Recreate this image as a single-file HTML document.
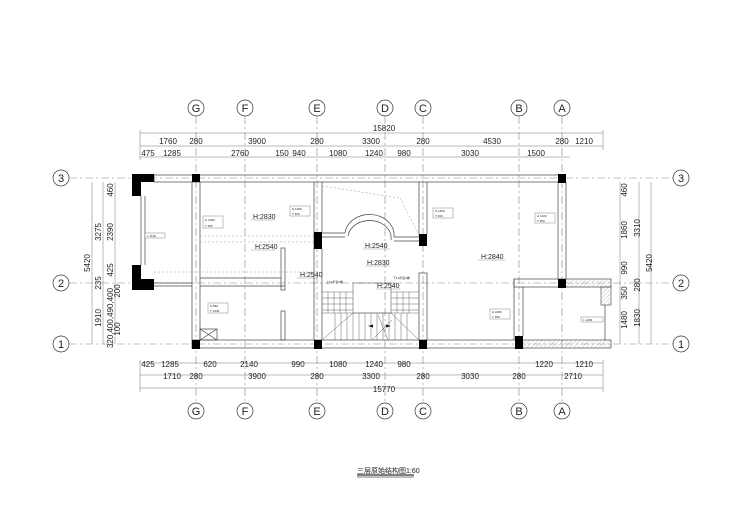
<!DOCTYPE html>
<html><head><meta charset="utf-8"><style>
html,body{margin:0;padding:0;background:#fff;}
svg{display:block;}
text{font-family:"Liberation Sans","Noto Sans CJK SC",sans-serif;fill:#222;}
.d{font-size:8px;}
.s{font-size:7px;}
.t{font-size:3px;}
.c{font-size:11px;}
</style></head><body>
<svg width="740" height="517" viewBox="0 0 740 517" xmlns="http://www.w3.org/2000/svg">
<defs>
<pattern id="h" width="3" height="3" patternUnits="userSpaceOnUse" patternTransform="rotate(45)">
<line x1="0" y1="0" x2="0" y2="3" stroke="#999" stroke-width="0.6"/></pattern>
</defs>
<rect width="740" height="517" fill="#fff"/>
<!-- axis lines -->
<g stroke="#888" stroke-width="0.6" stroke-dasharray="8,3,2,3" fill="none">
<line x1="196" y1="116" x2="196" y2="403"/>
<line x1="245" y1="116" x2="245" y2="403"/>
<line x1="317" y1="116" x2="317" y2="403"/>
<line x1="385" y1="116" x2="385" y2="403"/>
<line x1="423" y1="116" x2="423" y2="403"/>
<line x1="519" y1="116" x2="519" y2="403"/>
<line x1="562" y1="116" x2="562" y2="403"/>
<line x1="69" y1="178" x2="673" y2="178"/>
<line x1="69" y1="283" x2="673" y2="283"/>
<line x1="69" y1="344" x2="673" y2="344"/>
</g>
<!-- axis bubbles -->
<g fill="#fff" stroke="#333" stroke-width="0.7">
<circle cx="196" cy="108" r="8"/><circle cx="245" cy="108" r="8"/><circle cx="317" cy="108" r="8"/><circle cx="385" cy="108" r="8"/><circle cx="423" cy="108" r="8"/><circle cx="519" cy="108" r="8"/><circle cx="562" cy="108" r="8"/>
<circle cx="196" cy="411" r="8"/><circle cx="245" cy="411" r="8"/><circle cx="317" cy="411" r="8"/><circle cx="385" cy="411" r="8"/><circle cx="423" cy="411" r="8"/><circle cx="519" cy="411" r="8"/><circle cx="562" cy="411" r="8"/>
<circle cx="61" cy="178" r="8"/><circle cx="61" cy="283" r="8"/><circle cx="61" cy="344" r="8"/>
<circle cx="681" cy="178" r="8"/><circle cx="681" cy="283" r="8"/><circle cx="681" cy="344" r="8"/>
</g>
<g class="c" text-anchor="middle">
<text x="196" y="112">G</text><text x="245" y="112">F</text><text x="317" y="112">E</text><text x="385" y="112">D</text><text x="423" y="112">C</text><text x="519" y="112">B</text><text x="562" y="112">A</text>
<text x="196" y="415">G</text><text x="245" y="415">F</text><text x="317" y="415">E</text><text x="385" y="415">D</text><text x="423" y="415">C</text><text x="519" y="415">B</text><text x="562" y="415">A</text>
<text x="61" y="182">3</text><text x="61" y="287">2</text><text x="61" y="348">1</text>
<text x="681" y="182">3</text><text x="681" y="287">2</text><text x="681" y="348">1</text>
</g>
<!-- dimension lines -->
<g stroke="#777" stroke-width="0.5">
<line x1="140" y1="133" x2="603" y2="133"/>
<line x1="140" y1="146" x2="603" y2="146"/>
<line x1="140" y1="157" x2="570" y2="157"/>
<line x1="140" y1="363" x2="603" y2="363"/>
<line x1="140" y1="375" x2="603" y2="375"/>
<line x1="140" y1="388" x2="603" y2="388"/>
<line x1="92" y1="182" x2="92" y2="344"/>
<line x1="103" y1="182" x2="103" y2="344"/>
<line x1="115" y1="182" x2="115" y2="344"/>
<line x1="620" y1="182" x2="620" y2="344"/>
<line x1="639" y1="182" x2="639" y2="344"/>
<line x1="651" y1="182" x2="651" y2="344"/>
<line x1="140" y1="130" x2="140" y2="160"/><line x1="603" y1="130" x2="603" y2="150"/>
<line x1="140" y1="360" x2="140" y2="392"/><line x1="603" y1="360" x2="603" y2="392"/>
</g>
<g class="d" text-anchor="middle">
<text x="384" y="131">15820</text>
<text x="168" y="144">1760</text><text x="196" y="144">280</text><text x="257" y="144">3900</text><text x="317" y="144">280</text><text x="371" y="144">3300</text><text x="423" y="144">280</text><text x="492" y="144">4530</text><text x="562" y="144">280</text><text x="584" y="144">1210</text>
<text x="148" y="156">475</text><text x="172" y="156">1285</text><text x="240" y="156">2760</text><text x="282" y="156">150</text><text x="299" y="156">940</text><text x="338" y="156">1080</text><text x="374" y="156">1240</text><text x="404" y="156">980</text><text x="470" y="156">3030</text><text x="536" y="156">1500</text>
<text x="148" y="367">425</text><text x="170" y="367">1285</text><text x="210" y="367">620</text><text x="249" y="367">2140</text><text x="298" y="367">990</text><text x="338" y="367">1080</text><text x="374" y="367">1240</text><text x="404" y="367">980</text><text x="544" y="367">1220</text><text x="584" y="367">1210</text>
<text x="172" y="379">1710</text><text x="196" y="379">280</text><text x="257" y="379">3900</text><text x="317" y="379">280</text><text x="371" y="379">3300</text><text x="423" y="379">280</text><text x="470" y="379">3030</text><text x="519" y="379">280</text><text x="573" y="379">2710</text>
<text x="384" y="392">15770</text>
</g>
<g class="d" text-anchor="middle">
<text transform="translate(90,263) rotate(-90)">5420</text>
<text transform="translate(101,232) rotate(-90)">3275</text>
<text transform="translate(101,283) rotate(-90)">235</text>
<text transform="translate(101,318) rotate(-90)">1910</text>
<text transform="translate(113,190) rotate(-90)">460</text>
<text transform="translate(113,232) rotate(-90)">2390</text>
<text transform="translate(113,270) rotate(-90)">425</text>
<text transform="translate(120,291) rotate(-90)">200</text>
<text transform="translate(113,318) rotate(-90)">320,400,490,400</text>
<text transform="translate(120,329) rotate(-90)">100</text>
<text transform="translate(627,190) rotate(-90)">460</text>
<text transform="translate(627,230) rotate(-90)">1860</text>
<text transform="translate(627,268) rotate(-90)">990</text>
<text transform="translate(627,293) rotate(-90)">350</text>
<text transform="translate(627,320) rotate(-90)">1480</text>
<text transform="translate(640,228) rotate(-90)">3310</text>
<text transform="translate(640,285) rotate(-90)">280</text>
<text transform="translate(640,318) rotate(-90)">1830</text>
<text transform="translate(652,263) rotate(-90)">5420</text>
</g>
<!-- walls -->
<g fill="none" stroke="#444" stroke-width="0.7">
<rect x="154" y="175" width="411" height="7"/>
<line x1="141" y1="196" x2="141" y2="265"/><line x1="145" y1="196" x2="145" y2="265"/>
<line x1="192" y1="182" x2="192" y2="340"/><line x1="200" y1="182" x2="200" y2="340"/>
<line x1="200" y1="278" x2="281" y2="278"/><line x1="200" y1="286" x2="285" y2="286"/>
<rect x="281" y="248" width="4" height="42"/><rect x="281" y="311" width="4" height="29"/>
<line x1="154" y1="283" x2="192" y2="283"/><line x1="154" y1="286" x2="192" y2="286"/>
<line x1="314" y1="182" x2="314" y2="340"/><line x1="322" y1="182" x2="322" y2="232"/>
<line x1="322" y1="249" x2="322" y2="340"/>
<line x1="419" y1="182" x2="419" y2="234"/><line x1="427" y1="182" x2="427" y2="234"/>
<rect x="419" y="273" width="8" height="67"/>
<line x1="322" y1="233" x2="345" y2="233"/><line x1="322" y1="237" x2="345" y2="237"/>
<line x1="394" y1="237" x2="419" y2="237"/><line x1="394" y1="241" x2="419" y2="241"/>
<path d="M345 233 A24 20 0 0 1 394 237"/>
<path d="M348 236 A21 17 0 0 1 391 240"/>
<line x1="558" y1="182" x2="558" y2="279"/><line x1="566" y1="182" x2="566" y2="279"/>
<rect x="192" y="340" width="419" height="8"/>
<rect x="514" y="279" width="97" height="8"/>
<line x1="514" y1="279" x2="514" y2="340"/><line x1="523" y1="287" x2="523" y2="336"/>
<line x1="605" y1="305" x2="605" y2="340"/>
<rect x="200" y="329" width="17" height="11"/>
<line x1="200" y1="329" x2="217" y2="340"/><line x1="217" y1="329" x2="200" y2="340"/>
</g>
<rect x="566" y="279" width="45" height="8" fill="url(#h)"/>
<rect x="601" y="287" width="10" height="18" fill="url(#h)" stroke="#444" stroke-width="0.6"/>
<rect x="523" y="340" width="88" height="8" fill="url(#h)"/>
<!-- dotted lines -->
<g stroke="#999" stroke-width="0.5" stroke-dasharray="2,2" fill="none">
<line x1="200" y1="236" x2="314" y2="236"/><line x1="200" y1="242" x2="314" y2="242"/>
<line x1="322" y1="186" x2="400" y2="198"/><line x1="400" y1="198" x2="419" y2="235"/>
<line x1="154" y1="272" x2="315" y2="272"/>
</g>
<!-- stairs -->
<g stroke="#666" stroke-width="0.5" fill="none">
<rect x="353" y="283" width="38" height="30" stroke="#444"/>
<path d="M322 292H353M322 298H353M322 304H353M322 310H353M391 292H419M391 298H419M391 304H419M391 310H419"/>
<path d="M322 313H419M335 313V340M341 313V340M347 313V340M353 313V340M359 313V340M365 313V340M371 313V340M377 313V340M383 313V340M389 313V340M395 313V340M401 313V340M407 313V340"/>
<path d="M322 340L353 313M419 340L391 313M378 315L388 340M392 320L372 340"/>
<path d="M328 292V313M334 292V313M340 292V313M346 292V313M397 292V313M403 292V313M409 292V313"/>
</g>
<path d="M368 326l5 -1.5v3z M391 326l-5 -1.5v3z" fill="#111"/>
<!-- columns -->
<g fill="#000">
<path d="M132 174H154V182H141V196H132Z"/>
<path d="M132 265H141V279H154V290H132Z"/>
<rect x="192" y="174" width="8" height="8"/>
<rect x="558" y="174" width="8" height="9"/>
<rect x="314" y="232" width="8" height="17"/>
<rect x="419" y="234" width="8" height="12"/>
<rect x="558" y="279" width="8" height="9"/>
<rect x="192" y="340" width="8" height="9"/>
<rect x="314" y="340" width="8" height="9"/>
<rect x="419" y="340" width="8" height="9"/>
<rect x="515" y="336" width="8" height="13"/>
</g>
<!-- labels -->
<g class="s">
<text x="253" y="219">H:2830</text><text x="255" y="249">H:2540</text><text x="300" y="277">H:2540</text>
<text x="365" y="248">H:2540</text><text x="367" y="265">H:2830</text><text x="377" y="288">H:2540</text>
<text x="481" y="259">H:2840</text>
</g>
<g stroke="#777" stroke-width="0.4" fill="none">
<path d="M251 220H275M251 250H275M297 278H318M363 249H390M365 266H390M376 289H400M478 260H505"/>
</g>
<g stroke="#666" stroke-width="0.4" fill="#fff">
<rect x="203" y="216" width="20" height="12"/><rect x="290" y="206" width="20" height="10"/>
<rect x="433" y="208" width="20" height="10"/><rect x="535" y="213" width="20" height="10"/>
<rect x="208" y="303" width="20" height="10"/><rect x="490" y="309" width="20" height="10"/>
<rect x="145" y="233" width="20" height="5"/><rect x="581" y="317" width="22" height="5"/>
</g>
<g class="t">
<text x="205" y="221">H  2180</text><text x="205" y="227">T  180</text>
<text x="292" y="210">H  1450</text><text x="292" y="215">T  930</text>
<text x="435" y="212">H  1450</text><text x="435" y="217">T  930</text>
<text x="537" y="217">H  1400</text><text x="537" y="222">T  950</text>
<text x="210" y="307">H  850</text><text x="210" y="312">T  1440</text>
<text x="492" y="313">H  2180</text><text x="492" y="318">T  180</text>
<text x="147" y="237">1  1130</text><text x="583" y="321">1  1200</text>
<text x="326" y="283">上12步宽3梯</text><text x="393" y="279">下11步宽3梯</text>
</g>
<!-- title -->
<text x="357" y="473" style="font-size:7px">三层原始结构图1:60</text>
<line x1="357" y1="475" x2="414" y2="475" stroke="#000" stroke-width="1"/>
<line x1="357" y1="477" x2="414" y2="477" stroke="#000" stroke-width="0.5"/>
</svg>
</body></html>
